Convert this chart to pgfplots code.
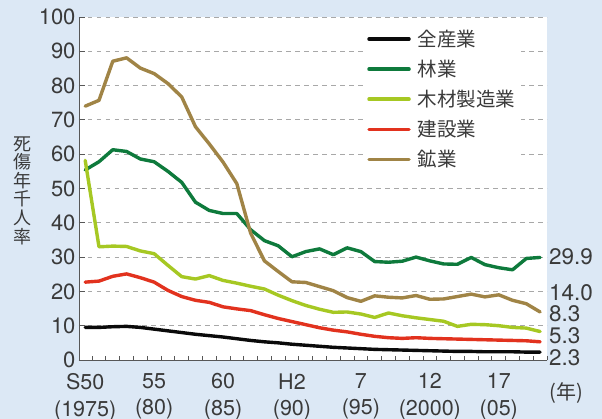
\documentclass[border=0pt]{standalone}
\usepackage{fontspec}
\setmainfont{TeX Gyre Heros}
\newfontfamily\cjk{Noto Sans CJK JP}
\usepackage{pgfplots}
\usepackage{pgfplotstable}
\pgfplotsset{compat=1.18}
\definecolor{bgblue}{HTML}{DCE8F5}
\definecolor{txt}{HTML}{3A3A3A}
\definecolor{cAll}{HTML}{0A0A0A}
\definecolor{cForest}{HTML}{0E7A3C}
\definecolor{cWood}{HTML}{A6C823}
\definecolor{cCons}{HTML}{E2321E}
\definecolor{cMine}{HTML}{A08446}
\definecolor{gridc}{HTML}{A8A8A8}

\pgfplotstableread{
year all forest wood cons mine
1975 9.5 55.4 58.2 22.7 74.0
1976 9.5 57.8 33.0 23.0 75.7
1977 9.7 61.3 33.2 24.4 87.1
1978 9.8 60.8 33.1 25.1 88.1
1979 9.5 58.6 31.8 24.0 85.1
1980 9.0 57.8 31.0 22.7 83.5
1981 8.5 55.0 27.6 20.3 80.6
1982 8.0 51.8 24.3 18.5 76.7
1983 7.5 46.0 23.6 17.4 68.0
1984 7.1 43.6 24.6 16.8 63.0
1985 6.7 42.7 23.2 15.5 57.7
1986 6.2 42.7 22.4 14.9 51.4
1987 5.7 38.0 21.5 14.4 37.0
1988 5.3 34.8 20.7 13.2 28.9
1989 5.0 33.3 18.9 12.1 25.8
1990 4.6 30.1 17.3 11.2 22.8
1991 4.3 31.6 15.9 10.3 22.6
1992 4.0 32.4 14.8 9.4 21.4
1993 3.7 30.7 13.9 8.7 20.2
1994 3.5 32.7 14.0 8.2 18.2
1995 3.3 31.6 13.4 7.5 17.1
1996 3.1 28.7 12.4 6.9 18.7
1997 3.0 28.5 13.7 6.5 18.3
1998 2.9 28.8 12.9 6.3 18.1
1999 2.8 30.0 12.3 6.5 18.8
2000 2.7 28.9 11.8 6.3 17.7
2001 2.6 28.0 11.3 6.2 17.8
2002 2.5 27.9 9.8 6.1 18.5
2003 2.5 29.9 10.4 6.0 19.2
2004 2.4 27.8 10.3 5.9 18.4
2005 2.4 26.9 10.0 5.8 19.0
2006 2.4 26.3 9.5 5.7 17.4
2007 2.3 29.6 9.3 5.6 16.4
2008 2.3 29.9 8.3 5.3 14.0
}\data

\begin{document}
\begin{tikzpicture}
\fill[bgblue] (-79pt,-59pt) rectangle (523pt,360pt);
\begin{axis}[
  at={(0pt,0pt)}, anchor=south west,
  scale only axis, width=468pt, height=343pt,
  xmin=1974.55, xmax=2008.5, ymin=0, ymax=100,
  axis background/.style={fill=white},
  axis x line*=bottom, axis y line*=left,
  axis line style={txt!85, line width=0.9pt},
  ytick={0,10,...,100},
  ymajorgrids,
  grid style={gridc, dash pattern=on 4.5pt off 4.5pt, line width=0.8pt},
  xtick={1975,1980,...,2005},
  xticklabels={{S50\\(1975)},{55\\(80)},{60\\(85)},{H2\\(90)},{7\\(95)},{12\\(2000)},{17\\(05)}},
  minor xtick={1975.5,1976.5,...,2008.5},
  major tick length=6pt, minor tick length=4pt, tick align=inside,
  tick style={txt!85, line width=0.8pt},
  major x tick style={draw=none},
  /pgf/number format/assume math mode=true,
  ticklabel style={font=\fontsize{22}{26.5}\selectfont, text=txt},
  xticklabel style={align=center, yshift=-10pt, font=\fontsize{21.5}{26.5}\selectfont},
  clip=false,
  legend style={at={(0.607,0.98)}, anchor=north west, draw=none, fill=white,
    font=\cjk\fontsize{19.5}{22}\selectfont, text=txt, row sep=8.2pt,
    inner xsep=4pt, inner ysep=4pt, cells={anchor=west}},
  legend image code/.code={\draw[#1, line width=3.5pt] (0pt,0pt) -- (40pt,0pt); \path (45pt,0pt);},
  every axis plot/.append style={line width=3.4pt, line join=round, line cap=round},
]
\addplot[cAll] table[x=year,y=all]{\data};
\addlegendentry{全産業}
\addplot[cForest] table[x=year,y=forest]{\data};
\addlegendentry{林業}
\addplot[cWood] table[x=year,y=wood]{\data};
\addlegendentry{木材製造業}
\addplot[cCons] table[x=year,y=cons]{\data};
\addlegendentry{建設業}
\addplot[cMine] table[x=year,y=mine]{\data};
\addlegendentry{鉱業}

\node[anchor=west, font=\fontsize{22.5}{24}\selectfont, text=txt, inner sep=0pt] at (axis description cs:1.004,0.300) {29.9};
\node[anchor=west, font=\fontsize{22.5}{24}\selectfont, text=txt, inner sep=0pt] at (axis description cs:1.004,0.197) {14.0};
\node[anchor=west, font=\fontsize{22.5}{24}\selectfont, text=txt, inner sep=0pt] at (axis description cs:1.004,0.134) {8.3};
\node[anchor=west, font=\fontsize{22.5}{24}\selectfont, text=txt, inner sep=0pt] at (axis description cs:1.004,0.071) {5.3};
\node[anchor=west, font=\fontsize{22.5}{24}\selectfont, text=txt, inner sep=0pt] at (axis description cs:1.004,0.006) {2.3};
\node[font=\cjk\fontsize{20}{22}\selectfont, text=txt, inner sep=0pt] at (axis description cs:1.0406,-0.096) {(年)};
\node[align=center, font=\cjk\fontsize{18}{18.6}\selectfont, text=txt, inner sep=0pt] at (axis description cs:-0.1197,0.494) {死\\傷\\年\\千\\人\\率};
\end{axis}
\pgfresetboundingbox
\useasboundingbox (-79pt,-59pt) rectangle (523pt,360pt);
\end{tikzpicture}
\end{document}
